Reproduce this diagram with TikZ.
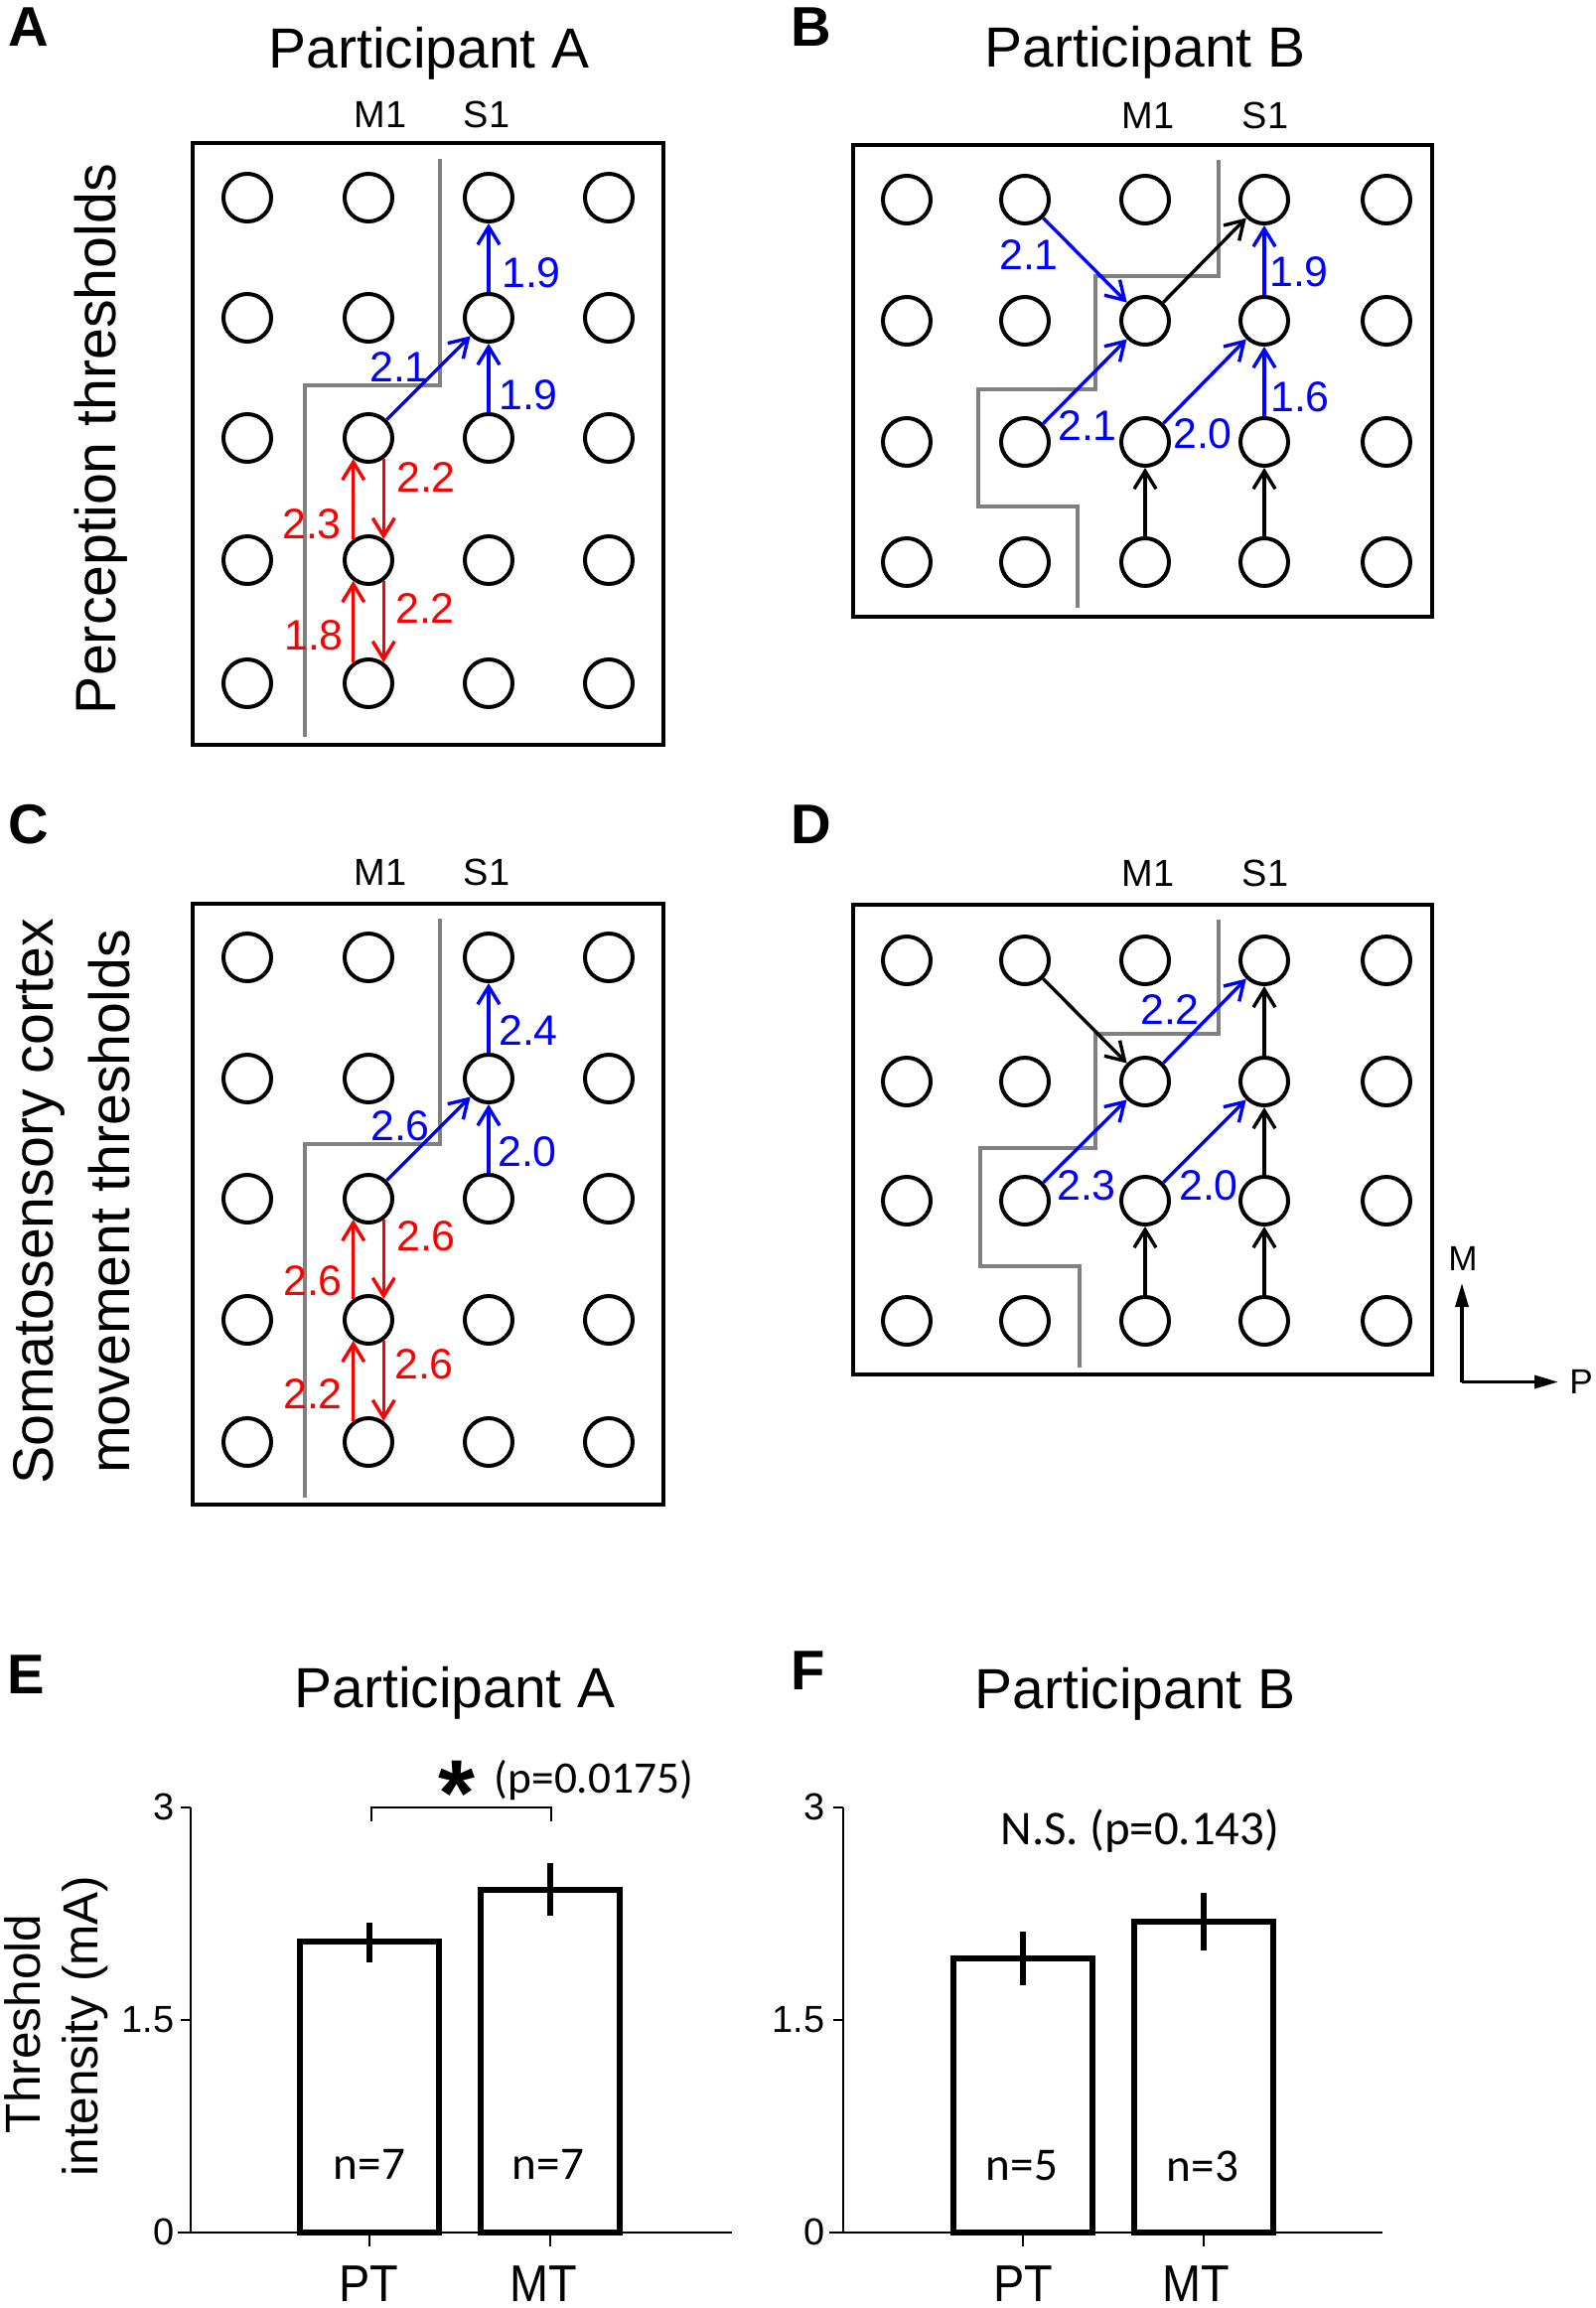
\documentclass[tikz,border=0pt]{standalone}
\usepackage{fontspec}
\setmainfont{Liberation Sans}
\newfontfamily\calib{Carlito}
\usetikzlibrary{arrows.meta}
\newcommand\fsz[1]{\fontsize{#1pt}{#1pt}\selectfont}
\definecolor{sepgrey}{RGB}{128,128,128}
\tikzset{
  elec/.style={circle,draw,line width=0.4mm,minimum size=4.8mm,inner sep=0pt},
  panelbox/.style={draw,line width=0.45mm},
  sepline/.style={draw=sepgrey,line width=0.32mm},
  conn/.style={line width=0.34mm,-{Straight Barb[length=1.8mm,width=2.2mm]}},
  bl/.style={conn,draw=blue},
  rd/.style={conn,draw=red},
  bk/.style={conn,draw=black},
  num/.style={font=\fsz{12.2},inner sep=0pt},
  bnum/.style={num,text=blue},
  rnum/.style={num,text=red},
  ttl/.style={font=\fsz{16.2},inner sep=0pt,anchor=base},
  letter/.style={font=\fsz{16}\bfseries,inner sep=0pt,anchor=base west},
  region/.style={font=\fsz{10.8},inner sep=0pt},
  vlab/.style={font=\fsz{16.3},inner sep=0pt,anchor=base,rotate=90},
  bar/.style={draw,line width=0.6mm,fill=white},
  errb/.style={draw,line width=0.6mm},
  axis/.style={draw,line width=0.2mm},
  ticklab/.style={font=\fsz{10.8},inner sep=0pt,anchor=east},
  nlab/.style={font=\calib\fsz{13.4},inner sep=0pt},
  catlab/.style={font=\fsz{14.8},inner sep=0pt,anchor=base,xscale=0.9},
  dirarrow/.style={line width=0.33mm,-{Triangle[length=2.4mm,width=1.3mm]}},
}
\begin{document}
\begin{tikzpicture}[x=0.1mm,y=-0.1mm]
\useasboundingbox (0,0) rectangle (1607,2324);

% ================= Panel A =================
\node[letter] (labA) at (8,46) {A};
\node[ttl] (titA) at (432,68) {Participant A};
\node[vlab] (vA) at (116,442) {Perception thresholds};
\node[region] (m1A) at (383,115) {M1};
\node[region] (s1A) at (490,115) {S1};
\draw[panelbox] (194,144) rectangle (668,750);
\draw[sepline] (443,160) -- (443,388) -- (307,388) -- (307,742);
\foreach \c/\x in {1/249,2/371,3/492,4/613}
  \foreach \r/\y in {1/199,2/320,3/441,4/564,5/688}
    \node[elec] (a\c\r) at (\x,\y) {};
\draw[bl] (a33) -- (a32);
\draw[bl] (a32) -- (a31);
\draw[bl] (a23) -- (a32);
\draw[rd] (a24.126) -- (a23.234);
\draw[rd] (a23.306) -- (a24.54);
\draw[rd] (a25.126) -- (a24.234);
\draw[rd] (a24.306) -- (a25.54);
\node[bnum] (nA1) at (535,275) {1.9};
\node[bnum] (nA2) at (532,398) {1.9};
\node[bnum] (nA3) at (402,370) {2.1};
\node[rnum] (nA4) at (429,481) {2.2};
\node[rnum] (nA5) at (314,528) {2.3};
\node[rnum] (nA6) at (428,613) {2.2};
\node[rnum] (nA7) at (316,640) {1.8};

% ================= Panel B =================
\node[letter] (labB) at (796,46) {B};
\node[ttl] (titB) at (1153,67) {Participant B};
\node[region] (m1B) at (1156,116) {M1};
\node[region] (s1B) at (1274,116) {S1};
\draw[panelbox] (859,146) rectangle (1442,621);
\draw[sepline] (1227,161) -- (1227,278) -- (1103,278) -- (1103,392) -- (985,392) -- (985,510) -- (1085,510) -- (1085,612);
\foreach \c/\x in {1/913,2/1032,3/1153,4/1273,5/1396}
  \foreach \r/\y in {1/201,2/323,3/445,4/566}
    \node[elec] (b\c\r) at (\x,\y) {};
\draw[bl] (b21) -- (b32);
\draw[bk] (b32) -- (b41);
\draw[bl] (b42) -- (b41);
\draw[bl] (b23) -- (b32);
\draw[bl] (b33) -- (b42);
\draw[bl] (b43) -- (b42);
\draw[bk] (b34) -- (b33);
\draw[bk] (b44) -- (b43);
\node[bnum] (nB1) at (1036,257) {2.1};
\node[bnum] (nB2) at (1308,274) {1.9};
\node[bnum] (nB3) at (1095,429) {2.1};
\node[bnum] (nB4) at (1211,437) {2.0};
\node[bnum] (nB5) at (1309,400) {1.6};

% ================= Panel C =================
\node[letter] (labC) at (8,849) {C};
\node[vlab] (vC1) at (53,1210) {Somatosensory cortex};
\node[vlab] (vC2) at (130,1210) {movement thresholds};
\node[region] (m1C) at (383,878) {M1};
\node[region] (s1C) at (490,878) {S1};
\draw[panelbox] (194,910) rectangle (668,1515);
\draw[sepline] (443,925) -- (443,1152) -- (307,1152) -- (307,1508);
\foreach \c/\x in {1/249,2/371,3/492,4/613}
  \foreach \r/\y in {1/964,2/1086,3/1207,4/1329,5/1452}
    \node[elec] (c\c\r) at (\x,\y) {};
\draw[bl] (c33) -- (c32);
\draw[bl] (c32) -- (c31);
\draw[bl] (c23) -- (c32);
\draw[rd] (c24.126) -- (c23.234);
\draw[rd] (c23.306) -- (c24.54);
\draw[rd] (c25.126) -- (c24.234);
\draw[rd] (c24.306) -- (c25.54);
\node[bnum] (nC1) at (532,1038) {2.4};
\node[bnum] (nC2) at (531,1160) {2.0};
\node[bnum] (nC3) at (403,1134) {2.6};
\node[rnum] (nC4) at (429,1245) {2.6};
\node[rnum] (nC5) at (315,1290) {2.6};
\node[rnum] (nC6) at (427,1374) {2.6};
\node[rnum] (nC7) at (315,1404) {2.2};

% ================= Panel D =================
\node[letter] (labD) at (796,849) {D};
\node[region] (m1D) at (1156,879) {M1};
\node[region] (s1D) at (1274,879) {S1};
\draw[panelbox] (859,911) rectangle (1442,1384);
\draw[sepline] (1227,926) -- (1227,1041) -- (1103,1041) -- (1103,1156) -- (987,1156) -- (987,1275) -- (1087,1275) -- (1087,1377);
\foreach \c/\x in {1/913,2/1032,3/1153,4/1273,5/1396}
  \foreach \r/\y in {1/967,2/1089,3/1209,4/1330}
    \node[elec] (d\c\r) at (\x,\y) {};
\draw[bk] (d21) -- (d32);
\draw[bl] (d32) -- (d41);
\draw[bk] (d42) -- (d41);
\draw[bl] (d23) -- (d32);
\draw[bl] (d33) -- (d42);
\draw[bk] (d43) -- (d42);
\draw[bk] (d34) -- (d33);
\draw[bk] (d44) -- (d43);
\node[bnum] (nD1) at (1178,1017) {2.2};
\node[bnum] (nD2) at (1094,1194) {2.3};
\node[bnum] (nD3) at (1217,1194) {2.0};
% orientation axes
\coordinate (ori) at (1472,1391.5);
\coordinate (oriM) at (1472,1292);
\coordinate (oriP) at (1569,1391.5);
\draw[dirarrow] (ori) -- (oriM);
\draw[dirarrow] (ori) -- (oriP);
\node[font=\fsz{10},inner sep=0pt] (labM) at (1473,1267) {M};
\node[font=\fsz{10},inner sep=0pt] (labP) at (1592,1391) {P};

% ================= Panel E =================
\node[letter] (labE) at (7,1705) {E};
\node[ttl] (titE) at (458,1719) {Participant A};
\node[font=\fsz{14.1},inner sep=0pt,anchor=base,rotate=90] (yE1) at (40,2038) {Threshold};
\node[font=\fsz{14.1},inner sep=0pt,anchor=base,rotate=90] (yE2) at (98,2040) {intensity (mA)};
\draw[axis] (191.5,1819.7) -- (191.5,2247.6);
\draw[axis] (179,2247.6) -- (737,2247.6);
\foreach \v/\y in {3/1819.7,1.5/2033.9,0/2247.6} {
  \draw[axis] (181.5,\y) -- (191.5,\y);
  \node[ticklab] (tE\v) at (176,\y) {\v};
}
\draw[axis] (372,2247.6) -- (372,2261.6);
\draw[axis] (554,2247.6) -- (554,2261.6);
\draw[bar] (302,2247.6) rectangle (442,1955);
\draw[bar] (484,2247.6) rectangle (624,1903);
\draw[errb] (372,1936) -- (372,1976);
\draw[errb] (554,1876) -- (554,1929);
\draw[axis,line width=0.25mm] (374,1834) -- (374,1820) -- (555,1820) -- (555,1834);
\node[font=\fsz{27}\bfseries,inner sep=0pt,anchor=base] (starE) at (460,1838) {*};
\node[font=\calib\fsz{12.9},inner sep=0pt] (pE) at (598,1793) {(p=0.0175)};
\node[nlab] (nE1) at (372,2179) {n=7};
\node[nlab] (nE2) at (552,2179) {n=7};
\node[catlab] (cE1) at (371,2317) {PT};
\node[catlab] (cE2) at (547,2317) {MT};

% ================= Panel F =================
\node[letter] (labF) at (796,1701) {F};
\node[ttl] (titF) at (1143,1720) {Participant B};
\draw[axis] (848.5,1819.7) -- (848.5,2247.6);
\draw[axis] (835,2247.6) -- (1392,2247.6);
\foreach \v/\y in {3/1819.7,1.5/2033.9,0/2247.6} {
  \draw[axis] (838.5,\y) -- (848.5,\y);
  \node[ticklab] (tF\v) at (831,\y) {\v};
}
\draw[axis] (1029.5,2247.6) -- (1029.5,2261.6);
\draw[axis] (1211.5,2247.6) -- (1211.5,2261.6);
\draw[bar] (959.5,2247.6) rectangle (1099.5,1971.5);
\draw[bar] (1141.5,2247.6) rectangle (1281.5,1935.3);
\draw[errb] (1029.5,1945) -- (1029.5,1999);
\draw[errb] (1211.5,1906) -- (1211.5,1964);
\node[font=\calib\fsz{13.9},inner sep=0pt] (pF) at (1148,1844) {N.S. (p=0.143)};
\node[nlab] (nF1) at (1029,2181) {n=5};
\node[nlab] (nF2) at (1211,2181) {n=3};
\node[catlab] (cF1) at (1030,2317) {PT};
\node[catlab] (cF2) at (1204,2317) {MT};
\end{tikzpicture}
\end{document}
